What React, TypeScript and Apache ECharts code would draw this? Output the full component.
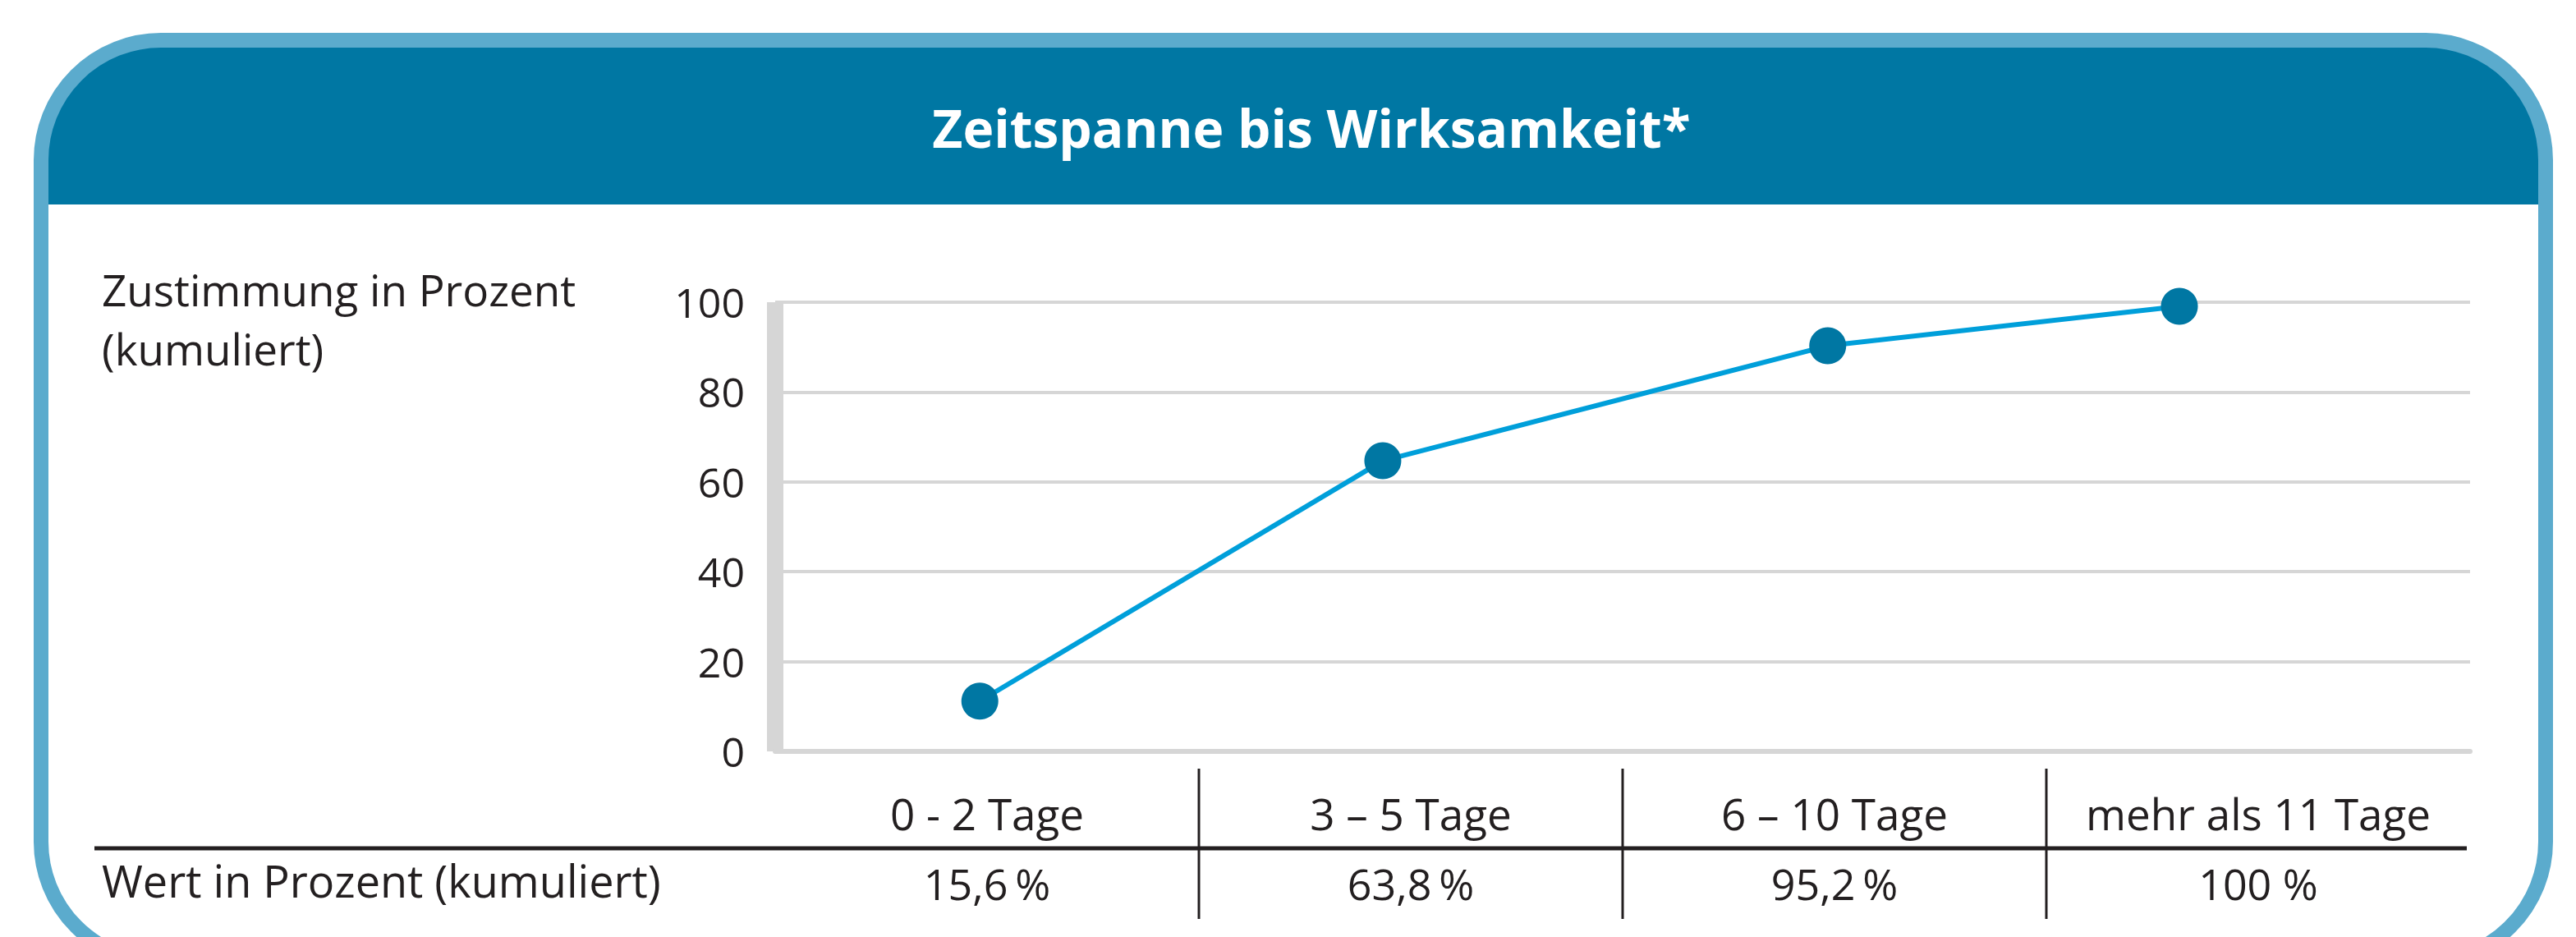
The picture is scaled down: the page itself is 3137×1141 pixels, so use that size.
import React, { useEffect, useRef } from "react";
import * as echarts from "echarts";

const W = 3137;
const H = 1141;

const title = "Zeitspanne bis Wirksamkeit*";
const yAxisTitle = ["Zustimmung in Prozent", "(kumuliert)"];
const rowTitle = "Wert in Prozent (kumuliert)";
const categories = ["0 - 2 Tage", "3 \u2013 5 Tage", "6 \u2013 10 Tage", "mehr als 11 Tage"];
const valueLabels = ["15,6\u2009%", "63,8\u2009%", "95,2\u2009%", "100 %"];
// plotted points (x in column units, y in %)
const pointPositions = [0.483, 1.434, 2.484, 3.314];
const pointValues = [11.2, 64.7, 90.3, 99.1];
const yTicks = { min: 0, max: 100, interval: 20 };

const FONT = "Open Sans";
const TEXT = "#231f20";
const DARK_BLUE = "#0077a3";
const LIGHT_BLUE = "#5babcd";
const LINE_BLUE = "#009fda";
const GRID_GRAY = "#d6d6d6";

const gridLeft = 944;
const gridRight = 3008;
const gridTop = 368;
const gridBottom = 915;

export default function App() {
  const ref = useRef<HTMLDivElement>(null);
  useEffect(() => {
    if (!ref.current) return;
    const chart = echarts.init(ref.current, null, { renderer: "svg" });
    const colW = (gridRight - gridLeft) / categories.length;
    const sepLines = [];
    for (let i = 1; i < categories.length; i++) {
      const x = gridLeft + colW * i;
      sepLines.push({
        type: "line",
        shape: { x1: x, y1: 936, x2: x, y2: 1119 },
        style: { stroke: TEXT, lineWidth: 3 },
      });
    }
    chart.setOption({
      animation: false,
      backgroundColor: "#ffffff",
      grid: {
        left: gridLeft,
        right: W - gridRight,
        top: gridTop,
        bottom: H - gridBottom,
        containLabel: false,
      },
      xAxis: [
        {
          type: "category",
          data: categories,
          boundaryGap: true,
          position: "bottom",
          axisLine: { show: true, lineStyle: { color: GRID_GRAY, width: 6 } },
          axisTick: { show: false },
          splitLine: { show: false },
          axisLabel: {
            show: true,
            interval: 0,
            margin: 75,
            verticalAlign: "middle",
            fontFamily: FONT,
            fontSize: 53,
            color: TEXT,
          },
          z: 3,
        },
        {
          type: "category",
          data: valueLabels,
          boundaryGap: true,
          position: "bottom",
          axisLine: { show: false },
          axisTick: { show: false },
          splitLine: { show: false },
          axisLabel: {
            show: true,
            interval: 0,
            margin: 160,
            verticalAlign: "middle",
            fontFamily: FONT,
            fontSize: 52,
            color: TEXT,
          },
        },
        {
          type: "value",
          min: 0,
          max: categories.length,
          show: false,
        },
      ],
      yAxis: {
        type: "value",
        min: yTicks.min,
        max: yTicks.max,
        interval: yTicks.interval,
        axisLine: { show: true, lineStyle: { color: GRID_GRAY, width: 20, cap: "butt" } },
        axisTick: { show: false },
        splitLine: { show: true, lineStyle: { color: GRID_GRAY, width: 4 } },
        axisLabel: {
          margin: 37,
          fontFamily: FONT,
          fontSize: 50,
          color: TEXT,
        },
      },
      series: [
        {
          type: "line",
          xAxisIndex: 2,
          data: pointPositions.map((x, i) => [x, pointValues[i]]),
          symbol: "circle",
          symbolSize: 45,
          lineStyle: { color: LINE_BLUE, width: 6 },
          itemStyle: { color: DARK_BLUE },
          z: 5,
        },
      ],
      graphic: [
        {
          type: "rect",
          shape: { x: 50, y: 49, width: 3050, height: 200, r: [146, 146, 0, 0] },
          style: { fill: DARK_BLUE },
          z: 0,
        },
        {
          type: "rect",
          shape: { x: 50, y: 49, width: 3050, height: 1122, r: 146 },
          style: { fill: "none", stroke: LIGHT_BLUE, lineWidth: 18 },
          z: 1,
        },
        {
          type: "text",
          x: 1597,
          y: 155,
          style: {
            text: title,
            fill: "#ffffff",
            fontFamily: FONT,
            fontWeight: "bold",
            fontSize: 64,
            textAlign: "center",
            textVerticalAlign: "middle",
          },
          z: 2,
        },
        {
          type: "text",
          x: 124,
          y: 352,
          style: {
            text: yAxisTitle[0],
            fill: TEXT,
            fontFamily: FONT,
            fontSize: 53,
            textAlign: "left",
            textVerticalAlign: "middle",
          },
        },
        {
          type: "text",
          x: 124,
          y: 424,
          style: {
            text: yAxisTitle[1],
            fill: TEXT,
            fontFamily: FONT,
            fontSize: 53,
            textAlign: "left",
            textVerticalAlign: "middle",
          },
        },
        {
          type: "text",
          x: 124,
          y: 1072,
          style: {
            text: rowTitle,
            fill: TEXT,
            fontFamily: FONT,
            fontSize: 54,
            textAlign: "left",
            textVerticalAlign: "middle",
          },
        },
        {
          type: "line",
          shape: { x1: 115, y1: 1033, x2: 3004, y2: 1033 },
          style: { stroke: TEXT, lineWidth: 5 },
        },
        ...sepLines,
      ],
    });
    return () => chart.dispose();
  }, []);
  return (
    <div
      ref={ref}
      style={{ position: "fixed", left: 0, top: 0, width: W, height: H, background: "#fff" }}
    />
  );
}
